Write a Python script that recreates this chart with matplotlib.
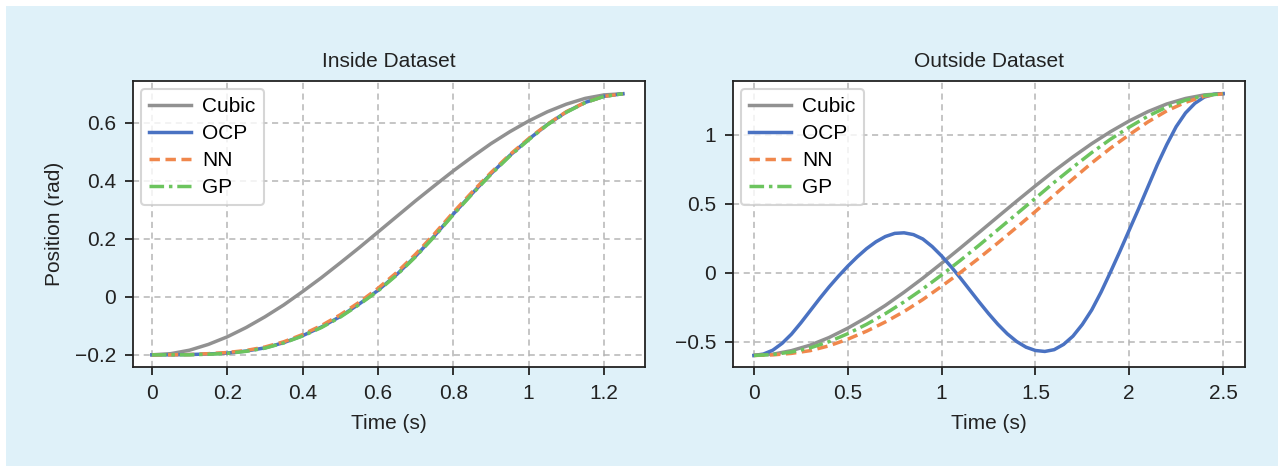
import matplotlib
matplotlib.use("Agg")
import matplotlib.pyplot as plt
from matplotlib.patches import Rectangle
from matplotlib.ticker import FuncFormatter

plt.rcParams['font.family'] = ['Liberation Sans', 'DejaVu Sans']
plt.rcParams['axes.unicode_minus'] = True

# --- inside dataset ---
t_in = [0, 0.05, 0.1, 0.15, 0.2, 0.25, 0.3, 0.35, 0.4, 0.45, 0.5, 0.55, 0.6,
        0.65, 0.7, 0.75, 0.8, 0.85, 0.9, 0.95, 1.0, 1.05, 1.1, 1.15, 1.2, 1.25]
cubic_in = [-0.2, -0.196, -0.184, -0.164, -0.138, -0.106, -0.069, -0.028, 0.018,
            0.066, 0.117, 0.169, 0.223, 0.277, 0.331, 0.383, 0.434, 0.482, 0.528,
            0.569, 0.606, 0.638, 0.664, 0.684, 0.696, 0.7]
ocp_in = [-0.2, -0.2, -0.199, -0.197, -0.194, -0.187, -0.176, -0.158, -0.134,
          -0.104, -0.068, -0.025, 0.022, 0.077, 0.14, 0.21, 0.285, 0.356, 0.424,
          0.487, 0.543, 0.594, 0.637, 0.67, 0.691, 0.7]
nn_in = [-0.2, -0.2, -0.199, -0.196, -0.192, -0.185, -0.173, -0.155, -0.13,
         -0.099, -0.062, -0.019, 0.029, 0.084, 0.147, 0.217, 0.291, 0.361, 0.428,
         0.49, 0.545, 0.595, 0.638, 0.67, 0.691, 0.7]
gp_in = [-0.2, -0.2, -0.2, -0.198, -0.195, -0.188, -0.177, -0.159, -0.135,
         -0.106, -0.07, -0.027, 0.02, 0.075, 0.138, 0.208, 0.283, 0.354, 0.422,
         0.485, 0.541, 0.593, 0.636, 0.669, 0.691, 0.7]

# --- outside dataset ---
t_out = [0, 0.1, 0.2, 0.3, 0.4, 0.5, 0.6, 0.7, 0.8, 0.9, 1.0, 1.1, 1.2, 1.3,
         1.4, 1.5, 1.6, 1.7, 1.8, 1.9, 2.0, 2.1, 2.2, 2.3, 2.4, 2.5]
cubic_out = [-0.6, -0.591, -0.565, -0.525, -0.47, -0.402, -0.324, -0.237, -0.141,
             -0.039, 0.069, 0.18, 0.293, 0.407, 0.52, 0.631, 0.739, 0.841, 0.937,
             1.024, 1.102, 1.17, 1.225, 1.265, 1.291, 1.3]
nn_out = [-0.6, -0.596, -0.585, -0.565, -0.53, -0.482, -0.424, -0.357, -0.281,
          -0.194, -0.098, 0.002, 0.107, 0.217, 0.33, 0.445, 0.564, 0.681, 0.797,
          0.904, 1.002, 1.095, 1.175, 1.237, 1.281, 1.3]
gp_out = [-0.6, -0.593, -0.575, -0.545, -0.5, -0.442, -0.374, -0.297, -0.211,
          -0.117, -0.016, 0.09, 0.2, 0.313, 0.427, 0.541, 0.656, 0.766, 0.872,
          0.969, 1.057, 1.137, 1.203, 1.253, 1.286, 1.3]
t_ocp = [0, 0.05, 0.1, 0.15, 0.2, 0.25, 0.3, 0.35, 0.4, 0.45, 0.5, 0.55, 0.6,
         0.65, 0.7, 0.75, 0.8, 0.85, 0.9, 0.95, 1.0, 1.05, 1.1, 1.15, 1.2, 1.25,
         1.3, 1.35, 1.4, 1.45, 1.5, 1.55, 1.6, 1.65, 1.7, 1.75, 1.8, 1.85, 1.9,
         1.95, 2.0, 2.05, 2.1, 2.15, 2.2, 2.25, 2.3, 2.35, 2.4, 2.45, 2.5]
ocp_out = [-0.6, -0.59, -0.562, -0.512, -0.445, -0.363, -0.275, -0.187, -0.103,
           -0.025, 0.048, 0.115, 0.175, 0.225, 0.263, 0.286, 0.29, 0.277, 0.245,
           0.19, 0.122, 0.045, -0.038, -0.125, -0.212, -0.296, -0.374, -0.443,
           -0.499, -0.54, -0.564, -0.571, -0.558, -0.52, -0.46, -0.375, -0.27,
           -0.14, 0.005, 0.155, 0.31, 0.465, 0.625, 0.785, 0.93, 1.06, 1.16, 1.23,
           1.275, 1.295, 1.3]

c_cubic = '#919191'
c_ocp = '#4a72c2'
c_nn = '#f0874c'
c_gp = '#6cc45e'
fs = 15
txt = '#222222'

fig = plt.figure(figsize=(12.84, 4.68), dpi=100)
fig.patch.set_facecolor('white')
fig.patches.append(Rectangle((6 / 1284, 2 / 468), 1272 / 1284, 460 / 468,
                             transform=fig.transFigure, facecolor='#dff1f9',
                             edgecolor='none', zorder=-10))

ax1 = fig.add_axes([132.7 / 1284, 1 - 367.3 / 468, 512.3 / 1284, 286.6 / 468])
ax2 = fig.add_axes([732.7 / 1284, 1 - 367.3 / 468, 512.3 / 1284, 286.6 / 468])


def fmt(v, pos):
    s = '%g' % round(v, 3)
    return s.replace('-', '\u2212')


def draw(ax, t_c, cubic, t_o, ocp, t_n, nn, t_g, gp):
    ax.plot(t_c, cubic, color=c_cubic, lw=2.5, label='Cubic')
    ax.plot(t_o, ocp, color=c_ocp, lw=2.5, label='OCP')
    ax.plot(t_n, nn, color=c_nn, lw=2.5, ls=(0, (3.0, 1.6)), label='NN')
    ax.plot(t_g, gp, color=c_gp, lw=2.5, ls=(0, (4.2, 1.4, 1, 1.4)), label='GP')
    ax.set_facecolor('white')
    ax.grid(True, color='#b5b5b5', ls=(0, (4, 3)), lw=1.1)
    ax.set_axisbelow(True)
    for sp in ax.spines.values():
        sp.set_color(txt)
        sp.set_linewidth(1.3)
    ax.tick_params(labelsize=fs, direction='out', length=6, width=1.3,
                   colors=txt, pad=6)
    ax.xaxis.set_major_formatter(FuncFormatter(fmt))
    ax.yaxis.set_major_formatter(FuncFormatter(fmt))
    ax.set_xlabel('Time (s)', fontsize=fs, color=txt, labelpad=8)
    leg = ax.legend(loc='upper left', fontsize=fs, frameon=True, fancybox=True,
                    handlelength=2.0, handletextpad=0.55, borderpad=0.4,
                    labelspacing=0.38, borderaxespad=0.4)
    leg.get_frame().set_edgecolor('#cccccc')
    leg.get_frame().set_linewidth(1.5)


draw(ax1, t_in, cubic_in, t_in, ocp_in, t_in, nn_in, t_in, gp_in)
ax1.set_title('Inside Dataset', fontsize=fs, color=txt, pad=10)
ax1.set_ylabel('Position (rad)', fontsize=fs, color=txt, labelpad=8)
ax1.set_xticks([0, 0.2, 0.4, 0.6, 0.8, 1.0, 1.2])
ax1.set_yticks([-0.2, 0, 0.2, 0.4, 0.6])
ax1.set_xlim(-0.051, 1.309)
ax1.set_ylim(-0.243, 0.745)

draw(ax2, t_out, cubic_out, t_ocp, ocp_out, t_out, nn_out, t_out, gp_out)
ax2.set_title('Outside Dataset', fontsize=fs, color=txt, pad=10)
ax2.set_xticks([0, 0.5, 1.0, 1.5, 2.0, 2.5])
ax2.set_yticks([-0.5, 0, 0.5, 1])
ax2.set_xlim(-0.1135, 2.617)
ax2.set_ylim(-0.686, 1.394)

fig.savefig('out.png', dpi=100)
